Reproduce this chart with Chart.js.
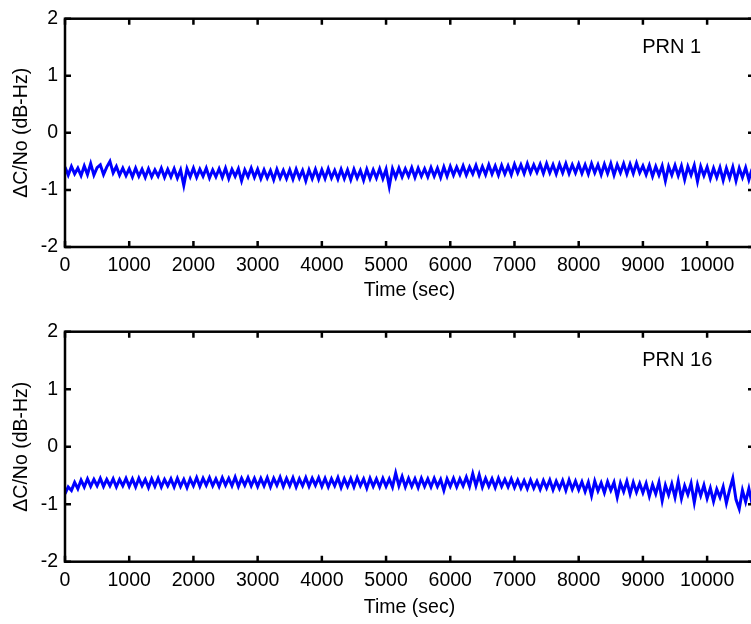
<!DOCTYPE html>
<html>
<head>
<meta charset="utf-8">
<script src="https://cdn.jsdelivr.net/npm/chart.js@4/dist/chart.umd.min.js"></script>
<style>
	html, body { margin: 0; padding: 0; background: #fff; overflow: hidden; }
	#wrap { position: relative; width: 751px; height: 624px; overflow: hidden; }
	canvas { position: absolute; left: 0; }
	#c1 { top: 0; }
	#c2 { top: 312px; }
</style>
</head>
<body>
<div id="wrap">
	<canvas id="c1" width="756" height="312"></canvas>
	<canvas id="c2" width="756" height="312"></canvas>
</div>
<script>
// sample spacing of the logged C/No differences (sec)
const sampleStep = 50;
const xMin = 0;
const xMax = 10730;
const yMin = -2;
const yMax = 2;
const xTicks = [0, 1000, 2000, 3000, 4000, 5000, 6000, 7000, 8000, 9000, 10000];
const yTicks = [-2, -1, 0, 1, 2];
const xLabel = "Time (sec)";
const yLabel = "\u0394C/No (dB-Hz)";
const panelNames = ["PRN 1", "PRN 16"];

const prn1 = [
	-0.60, -0.74, -0.59, -0.72, -0.62, -0.75, -0.58, -0.73, -0.54, -0.74, -0.61, -0.56, -0.73, -0.60, -0.50, -0.70, -0.59, -0.74, -0.62, -0.75,
	-0.63, -0.77, -0.62, -0.76, -0.64, -0.78, -0.63, -0.77, -0.65, -0.76, -0.62, -0.78, -0.64, -0.77, -0.63, -0.79, -0.65, -0.92, -0.63, -0.77,
	-0.62, -0.78, -0.64, -0.76, -0.62, -0.79, -0.65, -0.77, -0.63, -0.78, -0.62, -0.80, -0.64, -0.76, -0.63, -0.84, -0.65, -0.77, -0.62, -0.78,
	-0.64, -0.80, -0.65, -0.79, -0.66, -0.82, -0.64, -0.79, -0.66, -0.80, -0.65, -0.81, -0.64, -0.79, -0.66, -0.84, -0.65, -0.80, -0.64, -0.81,
	-0.65, -0.80, -0.63, -0.79, -0.66, -0.81, -0.64, -0.80, -0.65, -0.82, -0.64, -0.79, -0.66, -0.83, -0.64, -0.80, -0.65, -0.79, -0.63, -0.80,
	-0.64, -0.94, -0.63, -0.78, -0.62, -0.77, -0.63, -0.76, -0.61, -0.78, -0.62, -0.76, -0.63, -0.77, -0.61, -0.76, -0.62, -0.78, -0.60, -0.76,
	-0.59, -0.74, -0.60, -0.73, -0.58, -0.74, -0.60, -0.72, -0.57, -0.74, -0.59, -0.73, -0.56, -0.72, -0.58, -0.74, -0.57, -0.72, -0.58, -0.73,
	-0.55, -0.70, -0.56, -0.71, -0.54, -0.70, -0.56, -0.69, -0.55, -0.71, -0.54, -0.70, -0.56, -0.72, -0.55, -0.70, -0.54, -0.71, -0.56, -0.70,
	-0.55, -0.71, -0.56, -0.72, -0.54, -0.70, -0.56, -0.73, -0.55, -0.71, -0.54, -0.74, -0.56, -0.70, -0.54, -0.72, -0.55, -0.71, -0.53, -0.70,
	-0.58, -0.73, -0.57, -0.76, -0.59, -0.74, -0.58, -0.84, -0.59, -0.74, -0.57, -0.75, -0.58, -0.82, -0.59, -0.74, -0.57, -0.85, -0.59, -0.75,
	-0.60, -0.80, -0.62, -0.78, -0.61, -0.83, -0.62, -0.79, -0.60, -0.84, -0.62, -0.78, -0.61, -0.82, -0.63
];

const prn16 = [
	-0.82, -0.70, -0.76, -0.62, -0.73, -0.58, -0.70, -0.56, -0.69, -0.57, -0.68, -0.55, -0.69, -0.57, -0.68, -0.56, -0.70, -0.57, -0.68, -0.55,
	-0.69, -0.56, -0.70, -0.55, -0.68, -0.57, -0.71, -0.56, -0.69, -0.55, -0.70, -0.57, -0.68, -0.56, -0.70, -0.55, -0.69, -0.57, -0.71, -0.56,
	-0.68, -0.54, -0.69, -0.55, -0.67, -0.54, -0.68, -0.56, -0.69, -0.54, -0.67, -0.55, -0.68, -0.53, -0.69, -0.55, -0.67, -0.54, -0.68, -0.55,
	-0.69, -0.55, -0.68, -0.54, -0.70, -0.55, -0.67, -0.53, -0.69, -0.55, -0.68, -0.54, -0.70, -0.56, -0.68, -0.54, -0.69, -0.55, -0.67, -0.54,
	-0.69, -0.55, -0.70, -0.56, -0.68, -0.54, -0.71, -0.56, -0.69, -0.55, -0.70, -0.54, -0.68, -0.56, -0.72, -0.55, -0.69, -0.56, -0.70, -0.55,
	-0.69, -0.56, -0.70, -0.46, -0.68, -0.52, -0.70, -0.55, -0.69, -0.56, -0.71, -0.55, -0.69, -0.56, -0.70, -0.55, -0.69, -0.57, -0.76, -0.56,
	-0.69, -0.55, -0.70, -0.56, -0.68, -0.53, -0.69, -0.47, -0.68, -0.49, -0.70, -0.55, -0.69, -0.56, -0.71, -0.55, -0.69, -0.57, -0.70, -0.56,
	-0.71, -0.58, -0.72, -0.59, -0.73, -0.58, -0.72, -0.60, -0.74, -0.59, -0.72, -0.58, -0.75, -0.60, -0.73, -0.59, -0.76, -0.58, -0.74, -0.60,
	-0.75, -0.61, -0.78, -0.62, -0.85, -0.60, -0.77, -0.63, -0.80, -0.61, -0.76, -0.62, -0.88, -0.63, -0.78, -0.60, -0.82, -0.62, -0.79, -0.64,
	-0.80, -0.64, -0.86, -0.66, -0.82, -0.62, -0.94, -0.67, -0.84, -0.65, -0.88, -0.60, -0.90, -0.68, -0.83, -0.64, -0.97, -0.66, -0.85, -0.67,
	-0.90, -0.72, -0.95, -0.74, -0.88, -0.70, -0.98, -0.75, -0.55, -0.92, -1.08, -0.76, -0.96, -0.73, -0.99
];

const FONT = "Arial, 'Liberation Sans', sans-serif";

function toPoints(values) {
	return values.map((v, i) => ({ x: i * sampleStep, y: v }));
}

// matlab-ish box with ticks pointing inward, plus the panel tag
const boxPlugin = {
	id: "box",
	afterDraw(chart) {
		const { ctx, chartArea: a, scales } = chart;
		const len = 6;
		ctx.save();
		ctx.strokeStyle = "#000";
		ctx.lineWidth = 2.5;
		ctx.strokeRect(a.left, a.top, a.right - a.left, a.bottom - a.top);
		ctx.beginPath();
		scales.x.ticks.forEach((t) => {
			const px = scales.x.getPixelForValue(t.value);
			ctx.moveTo(px, a.top);
			ctx.lineTo(px, a.top + len);
			ctx.moveTo(px, a.bottom);
			ctx.lineTo(px, a.bottom - len);
		});
		scales.y.ticks.forEach((t) => {
			const py = scales.y.getPixelForValue(t.value);
			ctx.moveTo(a.left, py);
			ctx.lineTo(a.left + len, py);
			ctx.moveTo(a.right, py);
			ctx.lineTo(a.right - len, py);
		});
		ctx.stroke();

		const tag = chart.options.plugins.box.tag;
		ctx.fillStyle = "#000";
		ctx.font = "20px " + FONT;
		ctx.textAlign = "left";
		ctx.textBaseline = "middle";
		ctx.fillText(tag, scales.x.getPixelForValue(8990), scales.y.getPixelForValue(1.5));
		ctx.restore();
	}
};

function makePanel(id, values, tag, padTop, xHeight, titlePad) {
	return new Chart(document.getElementById(id), {
		type: "line",
		data: {
			datasets: [{
				data: toPoints(values),
				borderColor: "#0000ff",
				borderWidth: 3,
				borderJoinStyle: "miter",
				pointRadius: 0,
				tension: 0,
				fill: false
			}]
		},
		options: {
			responsive: false,
			animation: false,
			layout: { padding: { top: padTop, left: 0, right: 2, bottom: 0 } },
			plugins: {
				legend: { display: false },
				tooltip: { enabled: false },
				box: { tag }
			},
			scales: {
				x: {
					type: "linear",
					min: xMin,
					max: xMax,
					grid: { display: false, drawTicks: false },
					border: { display: false },
					afterBuildTicks: (s) => { s.ticks = xTicks.map((v) => ({ value: v })); },
					ticks: {
						autoSkip: false,
						maxRotation: 0,
						padding: 7,
						color: "#000",
						font: { family: FONT, size: 19.5 },
						callback: (v) => String(v)
					},
					title: {
						display: true,
						text: xLabel,
						color: "#000",
						font: { family: FONT, size: 19.5 },
						padding: { top: 0, bottom: titlePad }
					},
					afterFit: (s) => { s.height = xHeight; }
				},
				y: {
					min: yMin,
					max: yMax,
					grid: { display: false, drawTicks: false },
					border: { display: false },
					afterBuildTicks: (s) => { s.ticks = yTicks.map((v) => ({ value: v })); },
					ticks: {
						padding: 7,
						color: "#000",
						font: { family: FONT, size: 19.5 },
						callback: (v) => String(v)
					},
					title: {
						display: true,
						text: yLabel,
						color: "#000",
						font: { family: FONT, size: 19.5 },
						padding: { top: 10, bottom: 0 }
					},
					afterFit: (s) => { s.width = 65; }
				}
			}
		},
		plugins: [boxPlugin]
	});
}

makePanel("c1", prn1, panelNames[0], 15, 65, 10);
makePanel("c2", prn16, panelNames[1], 19.7, 62.3, 5);
</script>
</body>
</html>
